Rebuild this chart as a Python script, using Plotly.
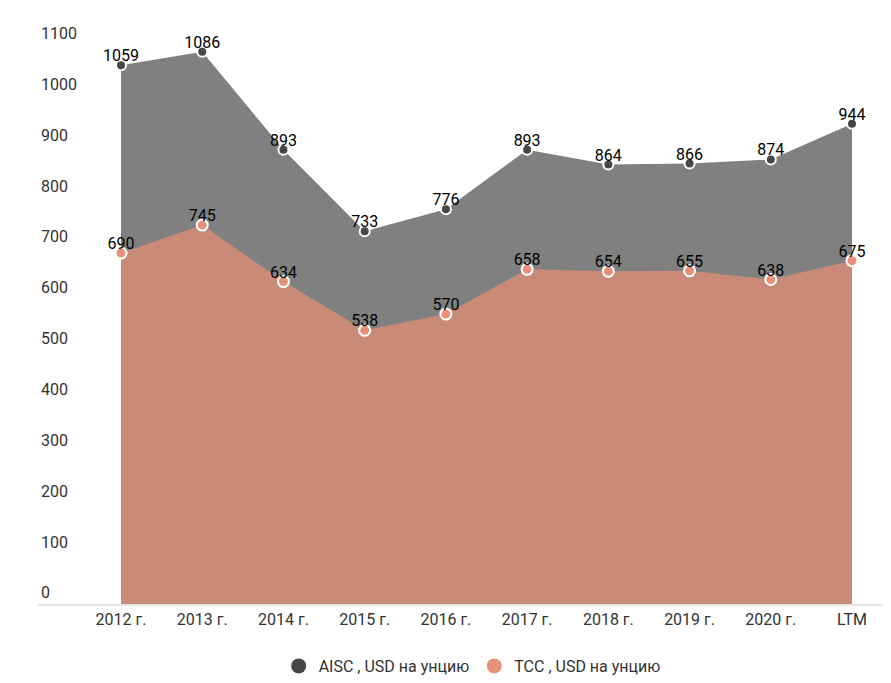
import plotly.graph_objects as go

years = ['2012 г.', '2013 г.', '2014 г.', '2015 г.', '2016 г.', '2017 г.',
         '2018 г.', '2019 г.', '2020 г.', 'LTM']
aisc = [1059, 1086, 893, 733, 776, 893, 864, 866, 874, 944]
tcc = [690, 745, 634, 538, 570, 658, 654, 655, 638, 675]

aisc_name = 'AISC , USD на унцию'
tcc_name = 'TCC , USD на унцию'

FONT = 'Roboto'
AISC_COLOR = '#474747'
TCC_COLOR = '#e8907a'

fig = go.Figure()

# filled areas
fig.add_trace(go.Scatter(
    x=years, y=aisc, mode='lines', fill='tozeroy',
    fillcolor='#808080', line={'width': 0, 'color': '#808080'},
    showlegend=False, hoverinfo='skip',
))
fig.add_trace(go.Scatter(
    x=years, y=tcc, mode='lines', fill='tozeroy',
    fillcolor='#c98a78', line={'width': 0, 'color': '#c98a78'},
    showlegend=False, hoverinfo='skip',
))

# points
fig.add_trace(go.Scatter(
    x=years, y=aisc, mode='markers',
    marker={'color': AISC_COLOR, 'size': 10, 'line': {'color': 'white', 'width': 2}},
    showlegend=False, cliponaxis=False,
))
fig.add_trace(go.Scatter(
    x=years, y=tcc, mode='markers',
    marker={'color': TCC_COLOR, 'size': 11, 'line': {'color': 'white', 'width': 2}},
    showlegend=False, cliponaxis=False,
))

# value labels, sitting right on top of the points
for vals in (aisc, tcc):
    fig.add_trace(go.Scatter(
        x=years, y=vals, mode='text',
        text=[str(v) for v in vals], textposition='top center',
        textfont={'family': FONT, 'size': 16, 'color': '#000000'},
        showlegend=False, cliponaxis=False,
    ))

# legend entries
fig.add_trace(go.Scatter(
    x=[None], y=[None], mode='markers', name=aisc_name,
    marker={'color': AISC_COLOR, 'size': 15},
))
fig.add_trace(go.Scatter(
    x=[None], y=[None], mode='markers', name=tcc_name,
    marker={'color': TCC_COLOR, 'size': 15},
))

# page body keeps its 8px margin, so the figure is 8px smaller than the window
fig.update_layout(
    template='none',
    width=883, height=675,
    margin={'l': 30, 'r': 0, 't': 6, 'b': 76, 'pad': 0},
    paper_bgcolor='white', plot_bgcolor='white',
    font={'family': FONT, 'size': 16, 'color': '#333333'},
    showlegend=True,
    legend={
        'orientation': 'h', 'x': 0.509, 'xanchor': 'center',
        'y': -0.077, 'yanchor': 'top',
        'font': {'family': FONT, 'size': 16, 'color': '#333333'},
    },
    hovermode=False,
)
fig.update_xaxes(
    type='category', range=[-1.022, 9.48], automargin=False,
    showgrid=False, zeroline=False,
    showline=True, linecolor='#e6e6e6', linewidth=2,
    ticks='', tickfont={'family': FONT, 'size': 16, 'color': '#333333'},
)
fig.update_yaxes(
    range=[0, 1160], dtick=100, tick0=0, automargin=False,
    showgrid=False, zeroline=False, showline=False,
    ticklabelposition='inside top', ticks='',
    tickfont={'family': FONT, 'size': 16, 'color': '#333333'},
)

fig.write_html('out.html')
